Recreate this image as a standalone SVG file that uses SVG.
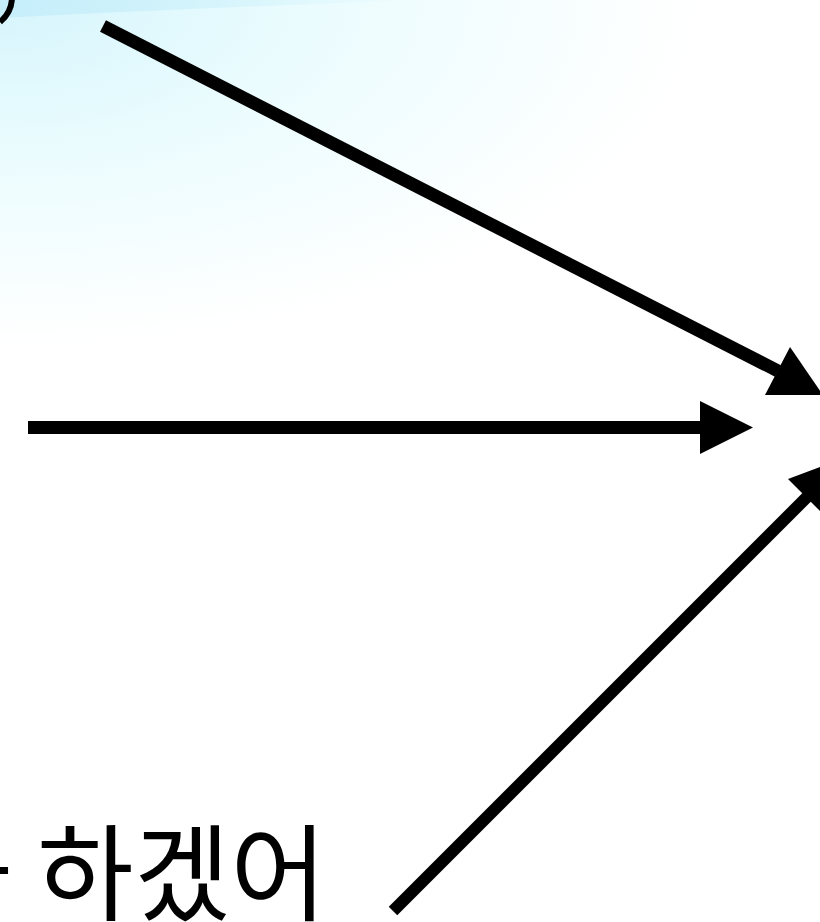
<svg xmlns="http://www.w3.org/2000/svg" width="820" height="922" viewBox="0 0 820 922">
  <defs>
    <radialGradient id="bg" cx="0" cy="0" r="560" gradientUnits="userSpaceOnUse" gradientTransform="scale(1.25,0.62)">
      <stop offset="0" stop-color="#d6f5fc"/>
      <stop offset="0.45" stop-color="#ebfcfe"/>
      <stop offset="1" stop-color="#ffffff"/>
    </radialGradient>
    <linearGradient id="band" x1="0" y1="0" x2="420" y2="0" gradientUnits="userSpaceOnUse">
      <stop offset="0" stop-color="#c6eefa"/>
      <stop offset="1" stop-color="#c6eefa" stop-opacity="0"/>
    </linearGradient>
    <style>
      .conn { stroke: #000; stroke-width: 13; fill: none; }
      .head { fill: #000; stroke: none; }
      .label { font-family: "Noto Sans CJK KR", "Noto Sans", sans-serif; font-size: 105px; fill: #000; }
    </style>
  </defs>
  <rect id="background" x="0" y="0" width="820" height="922" fill="#ffffff"/>
  <rect x="0" y="0" width="820" height="922" fill="url(#bg)"/>
  <path d="M0,0 L420,0 Q200,8 0,18 Z" fill="url(#band)"/>

  <g id="fragment-top-left">
    <path d="M12,-3 Q12,12 0,22" stroke="#000" stroke-width="6" fill="none"/>
  </g>

  <g id="text-bottom">
    <text class="label" x="-83" y="912">을 하겠어</text>
  </g>

  <g id="connectors">
    <line class="conn" x1="103" y1="26" x2="778" y2="371"/>
    <polygon class="head" points="790,347 765,395 823,395"/>
    <line class="conn" x1="28" y1="427.5" x2="702" y2="427.5"/>
    <polygon class="head" points="700,401 700,454 753,427.5"/>
    <line class="conn" x1="393" y1="911" x2="807" y2="497" style="stroke-width:12"/>
    <polygon class="head" points="788,479 825,516 847,457"/>
  </g>
</svg>
